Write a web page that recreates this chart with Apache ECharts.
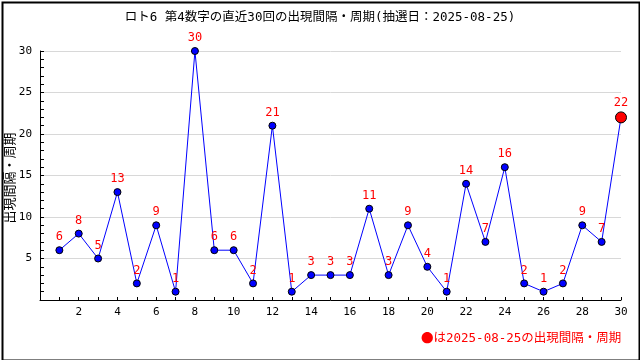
<!DOCTYPE html>
<html>
<head>
<meta charset="utf-8">
<script src="https://cdn.jsdelivr.net/npm/echarts@6/dist/echarts.min.js"></script>
<style>html,body{margin:0;padding:0;background:#fff}#c{width:640px;height:360px}</style>
</head>
<body>
<div id="c"></div>
<script>
const titleText = 'ロト6 第4数字の直近30回の出現間隔・周期(抽選日：2025-08-25)';
const yAxisName = '出現間隔・周期';
const legendMark = '●';
const legendText = 'は2025-08-25の出現間隔・周期';
const draws = [1,2,3,4,5,6,7,8,9,10,11,12,13,14,15,16,17,18,19,20,21,22,23,24,25,26,27,28,29,30];
const intervals = [6,8,5,13,2,9,1,30,6,6,2,21,1,3,3,3,11,3,9,4,1,14,7,16,2,1,2,9,7,22];

const font = '"DejaVu Sans Mono", "Noto Sans CJK JP", monospace';
const cjk = '"Noto Sans CJK JP", sans-serif';
const data = draws.map((d, i) => {
  const item = { value: [d, intervals[i]] };
  if (i === draws.length - 1) {
    item.symbolSize = 11;
    item.itemStyle = { color: '#ff0000', borderColor: '#000', borderWidth: 1 };
  }
  return item;
});

const chart = echarts.init(document.getElementById('c'), null, { renderer: 'canvas' });
chart.setOption({
  animation: false,
  backgroundColor: '#fff',
  title: {
    text: titleText, left: 'center', top: 6,
    textStyle: { fontSize: 12.5, fontWeight: 'normal', color: '#000', fontFamily: font }
  },
  grid: { left: 40, right: 19, top: 51, bottom: 60, containLabel: false, outerBoundsMode: 'none' },
  xAxis: {
    type: 'value', min: 0, max: 30, interval: 1,
    axisLine: { lineStyle: { color: '#000' } },
    axisTick: { inside: true, length: 3, lineStyle: { color: '#000' } },
    axisLabel: {
      color: '#000', fontSize: 11, fontFamily: font, margin: 7,
      formatter: v => (v > 0 && v % 2 === 0) ? String(v) : ''
    },
    splitLine: { show: false }
  },
  yAxis: {
    type: 'value', min: 0, max: 30, interval: 5,
    axisLine: { show: true, lineStyle: { color: '#000' } },
    axisTick: { inside: true, length: 4, lineStyle: { color: '#000' } },
    minorTick: { show: true, splitNumber: 5, length: 4, lineStyle: { color: '#000' } },
    axisLabel: {
      color: '#000', fontSize: 11, fontFamily: font, margin: 8,
      formatter: v => v === 0 ? '' : String(v)
    },
    splitLine: { show: true, lineStyle: { color: '#d8d8d8', width: 1 } }
  },
  series: [{
    type: 'line',
    data: data,
    symbol: 'circle', symbolSize: 7,
    lineStyle: { color: '#0000ff', width: 1 },
    itemStyle: { color: '#0000ff', borderColor: '#000', borderWidth: 1 },
    label: {
      show: true, position: 'top', distance: 3,
      color: '#ff0000', fontSize: 12, fontFamily: font,
      formatter: p => String(p.value[1])
    }
  }],
  graphic: [
    { type: 'rect', left: 0, top: 0, shape: { width: 637, height: 358 },
      style: { fill: 'none', stroke: '#000', lineWidth: 2 }, silent: true },
    { type: 'text', x: 9, y: 178, rotation: Math.PI / 2,
      style: { text: yAxisName, fill: '#000', font: '13px ' + cjk, align: 'center', verticalAlign: 'middle' } },
    { type: 'text', left: 421, top: 332,
      style: {
        text: '{m|' + legendMark + '}{t|' + legendText + '}',
        rich: {
          m: { fill: '#ff0000', font: '12.5px ' + cjk },
          t: { fill: '#ff0000', font: '12.5px ' + font }
        }
      } }
  ]
});
</script>
</body>
</html>
